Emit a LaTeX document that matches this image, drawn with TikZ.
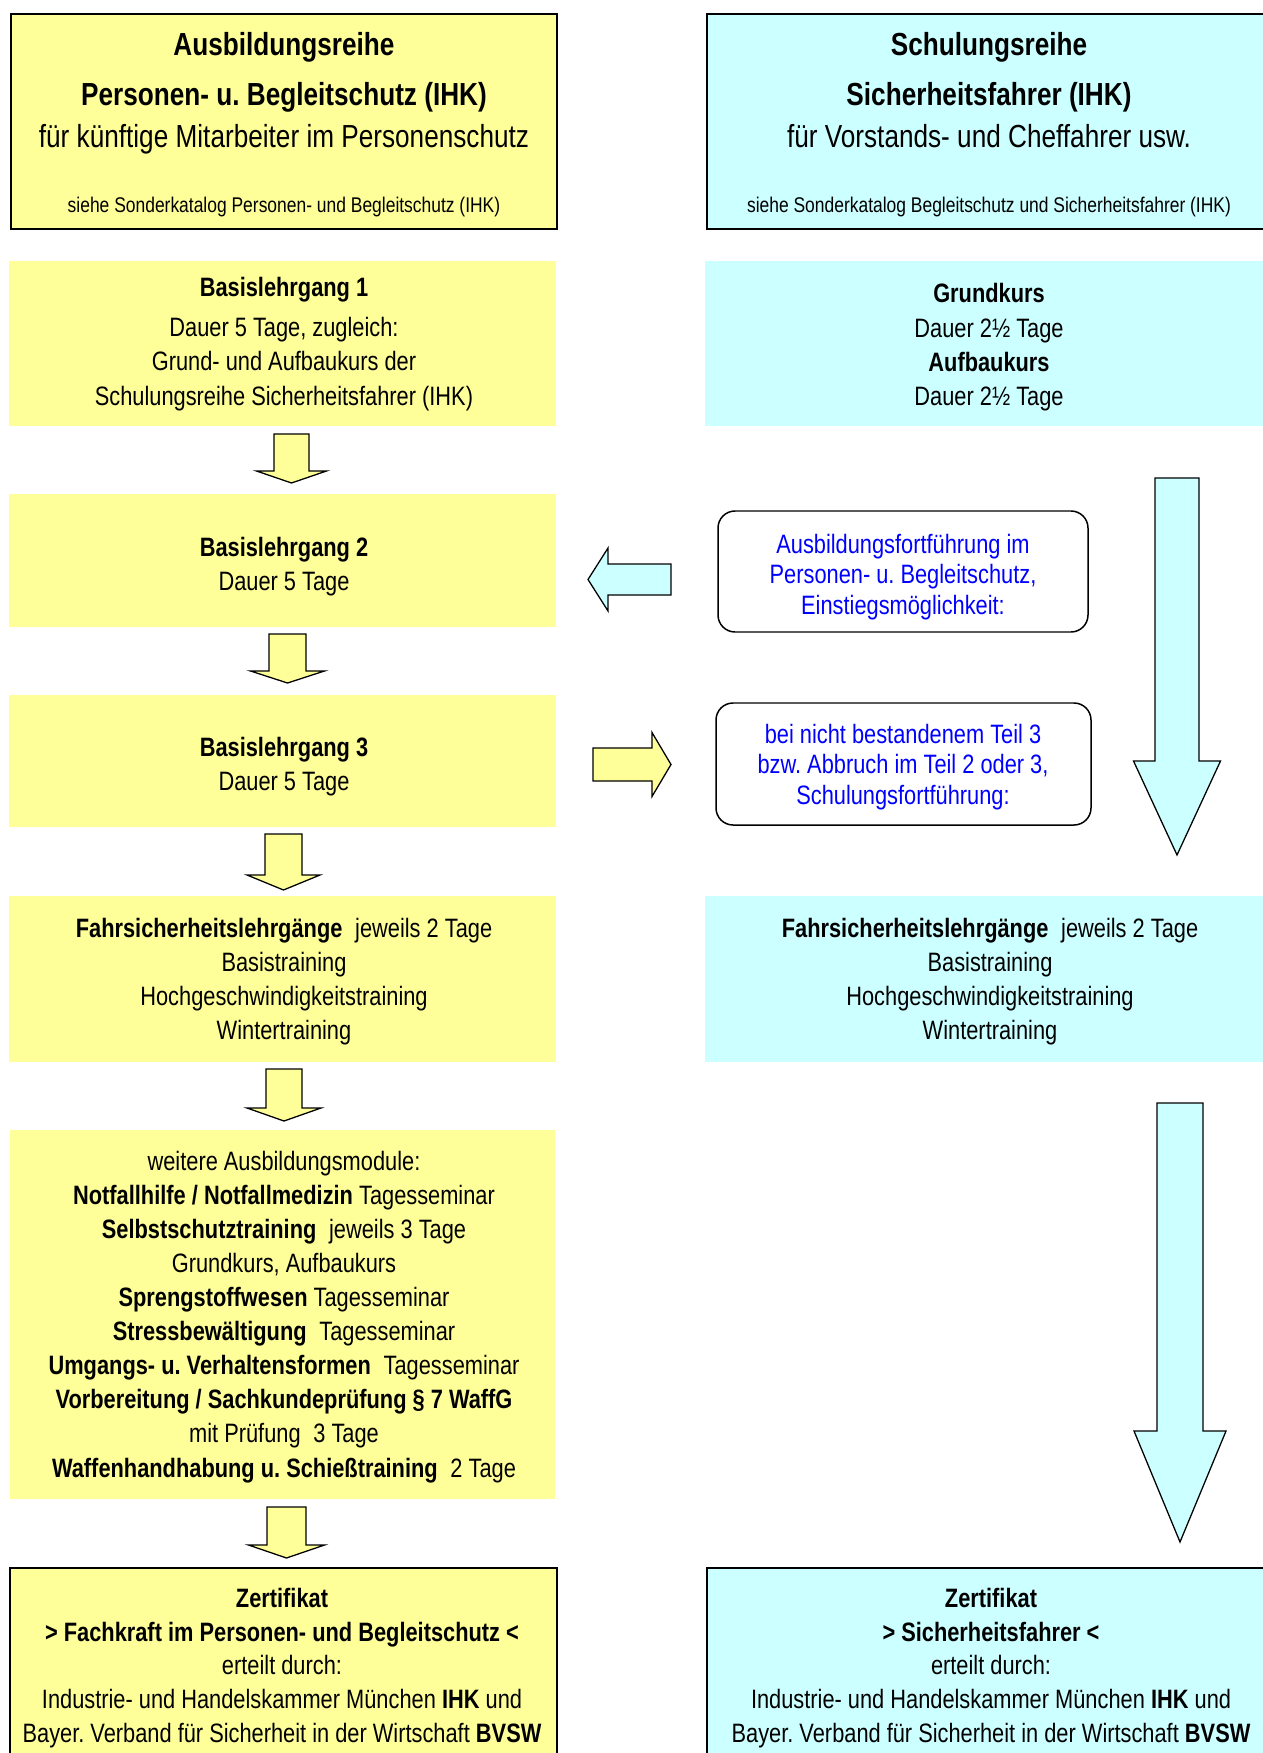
\documentclass[tikz,border=0pt]{standalone}
\usepackage{fontspec}
\setmainfont{Liberation Sans}[FakeStretch=0.82]
\usetikzlibrary{fit}
\definecolor{ylw}{HTML}{FFFF99}
\definecolor{cyn}{HTML}{CCFFFF}
\definecolor{blu}{HTML}{0000FF}
\newcommand\DnArrow[7]{%
  \draw[#1] (#2-#6,#3) -- (#2+#6,#3) -- (#2+#6,#4) -- (#2+#7,#4) -- (#2,#5) -- (#2-#7,#4) -- (#2-#6,#4) -- cycle;}
\newcommand\HzArrow[7]{%
  \draw[#1] (#3,#2-#6) -- (#4,#2-#6) -- (#4,#2-#7) -- (#5,#2) -- (#4,#2+#7) -- (#4,#2+#6) -- (#3,#2+#6) -- cycle;}
\newcommand\gap{\hspace{0.25em}}
\frenchspacing
\begin{document}
\frenchspacing
\begin{tikzpicture}[x=0.47pt,y=-0.47pt,
  ybox/.style={fill=ylw, draw=none, inner sep=0pt, outer sep=0pt},
  cbox/.style={fill=cyn, draw=none, inner sep=0pt, outer sep=0pt},
  frame/.style={draw=black, line width=0.9pt},
  rbox/.style={fill=white, draw=black, line width=0.7pt, rounded corners=8pt, inner sep=0pt},
  ttl/.style={inner sep=0pt, anchor=base, font=\fontsize{15}{18}\selectfont\bfseries\frenchspacing},
  sub/.style={inner sep=0pt, anchor=base, font=\fontsize{15}{18}\selectfont\frenchspacing},
  note/.style={inner sep=0pt, anchor=base, font=\fontsize{10}{12}\selectfont\frenchspacing},
  txt/.style={inner sep=0pt, align=center, font=\fontsize{12.5}{#1}\selectfont\frenchspacing},
  btxt/.style={inner sep=0pt, align=center, text=blu, font=\fontsize{12.5}{14.45}\selectfont\frenchspacing},
  yarr/.style={fill=ylw, draw=black, line width=0.6pt, line join=miter},
  carr/.style={fill=cyn, draw=black, line width=0.6pt, line join=miter}]
\useasboundingbox (0,0) rectangle (1263,1753);
\fill[white] (0,0) rectangle (1263,1753);

% top boxes
\node[ybox, frame, fit={(11,14)(557,229)}] (tl) {};
\node[ttl] (tl1) at (284,56) {Ausbildungsreihe};
\node[ttl] (tl2) at (284,105.5) {Personen- u. Begleitschutz (IHK)};
\node[sub] (tl3) at (284,148) {für künftige Mitarbeiter im Personenschutz};
\node[note] (tl4) at (284,213) {siehe Sonderkatalog Personen- und Begleitschutz (IHK)};

\node[cbox, frame, fit={(707,14)(1273,229)}] (tr) {};
\node[ttl] (tr1) at (989,56) {Schulungsreihe};
\node[ttl] (tr2) at (989,105.5) {Sicherheitsfahrer (IHK)};
\node[sub] (tr3) at (989,148) {für Vorstands- und Cheffahrer usw.};
\node[note] (tr4) at (989,213) {siehe Sonderkatalog Begleitschutz und Sicherheitsfahrer (IHK)};

% row 2
\node[ybox, fit={(9,261)(556,426)}] (b1) {};
\node[txt=16.1pt] (b1t) at (284,344) {\textbf{Basislehrgang 1}\\[2.6pt]Dauer 5 Tage, zugleich:\\Grund- und Aufbaukurs der\\Schulungsreihe Sicherheitsfahrer (IHK)};
\node[cbox, fit={(705,261)(1273,426)}] (g1) {};
\node[txt=16.1pt] (g1t) at (989,347.5) {\textbf{Grundkurs}\\Dauer 2½ Tage\\\textbf{Aufbaukurs}\\Dauer 2½ Tage};

% Basislehrgang 2, 3
\node[ybox, fit={(9,494)(556,627)}] (b2) {};
\node[txt=16pt] (b2t) at (284,567) {\textbf{Basislehrgang 2}\\Dauer 5 Tage};
\node[ybox, fit={(9,695)(556,827)}] (b3) {};
\node[txt=16pt] (b3t) at (284,767) {\textbf{Basislehrgang 3}\\Dauer 5 Tage};

% rounded info boxes
\node[rbox, fit={(718,511)(1088,632)}] (r1) {};
\node[btxt] (r1t) at (903,577) {Ausbildungsfortführung im\\Personen- u. Begleitschutz,\\Einstiegsmöglichkeit:};
\node[rbox, fit={(716,703)(1091,825)}] (r2) {};
\node[btxt] (r2t) at (903,767) {bei nicht bestandenem Teil 3\\bzw. Abbruch im Teil 2 oder 3,\\Schulungsfortführung:};

% Fahrsicherheit
\node[ybox, fit={(9,896)(556,1062)}] (f1) {};
\node[txt=16.1pt] (f1t) at (284,981.5) {\textbf{Fahrsicherheitslehrgänge}\gap{} jeweils 2 Tage\\Basistraining\\Hochgeschwindigkeitstraining\\Wintertraining};
\node[cbox, fit={(705,896)(1273,1062)}] (f2) {};
\node[txt=16.1pt] (f2t) at (990,981.5) {\textbf{Fahrsicherheitslehrgänge}\gap{} jeweils 2 Tage\\Basistraining\\Hochgeschwindigkeitstraining\\Wintertraining};

% weitere Module
\node[ybox, fit={(10,1130)(555,1499)}] (m1) {};
\node[txt=16pt] (m1t) at (284,1317) {weitere Ausbildungsmodule:\\
\textbf{Notfallhilfe / Notfallmedizin} Tagesseminar\\
\textbf{Selbstschutztraining}\gap{} jeweils 3 Tage\\
Grundkurs, Aufbaukurs\\
\textbf{Sprengstoffwesen} Tagesseminar\\
\textbf{Stressbewältigung}\gap{} Tagesseminar\\
\textbf{Umgangs- u. Verhaltensformen}\gap{} Tagesseminar\\
\textbf{Vorbereitung / Sachkundeprüfung § 7 WaffG}\\
mit Prüfung\gap{} 3 Tage\\
\textbf{Waffenhandhabung u. Schießtraining}\gap{} 2 Tage};

% Zertifikate
\node[ybox, frame, fit={(10,1568)(557,1770)}] (z1) {};
\node[txt=15.9pt] (z1t) at (282,1668) {\textbf{Zertifikat}\\\textbf{> Fachkraft im Personen- und Begleitschutz <}\\erteilt durch:\\Industrie- und Handelskammer München \textbf{IHK} und\\Bayer. Verband für Sicherheit in der Wirtschaft \textbf{BVSW}};
\node[cbox, frame, fit={(707,1568)(1275,1770)}] (z2) {};
\node[txt=15.9pt] (z2t) at (991,1668) {\textbf{Zertifikat}\\\textbf{> Sicherheitsfahrer <}\\erteilt durch:\\Industrie- und Handelskammer München \textbf{IHK} und\\Bayer. Verband für Sicherheit in der Wirtschaft \textbf{BVSW}};

% yellow down arrows
\DnArrow{yarr}{291.5}{434}{471}{483}{17.5}{35}
\DnArrow{yarr}{287.5}{634}{671}{683}{18.5}{37}
\DnArrow{yarr}{283.5}{834}{875}{890}{18.5}{36.5}
\DnArrow{yarr}{284}{1069}{1108}{1121}{18}{37}
\DnArrow{yarr}{286.5}{1507}{1545}{1558}{19.5}{38}

% big cyan down arrows
\DnArrow{carr}{1177}{478}{761}{855}{22}{43.5}
\DnArrow{carr}{1180}{1103}{1431}{1542}{23}{46}

% horizontal arrows
\HzArrow{carr}{579.5}{671}{608}{588}{15.5}{31.5}
\HzArrow{yarr}{764.5}{593}{652}{671}{16.5}{32}
\end{tikzpicture}
\end{document}
